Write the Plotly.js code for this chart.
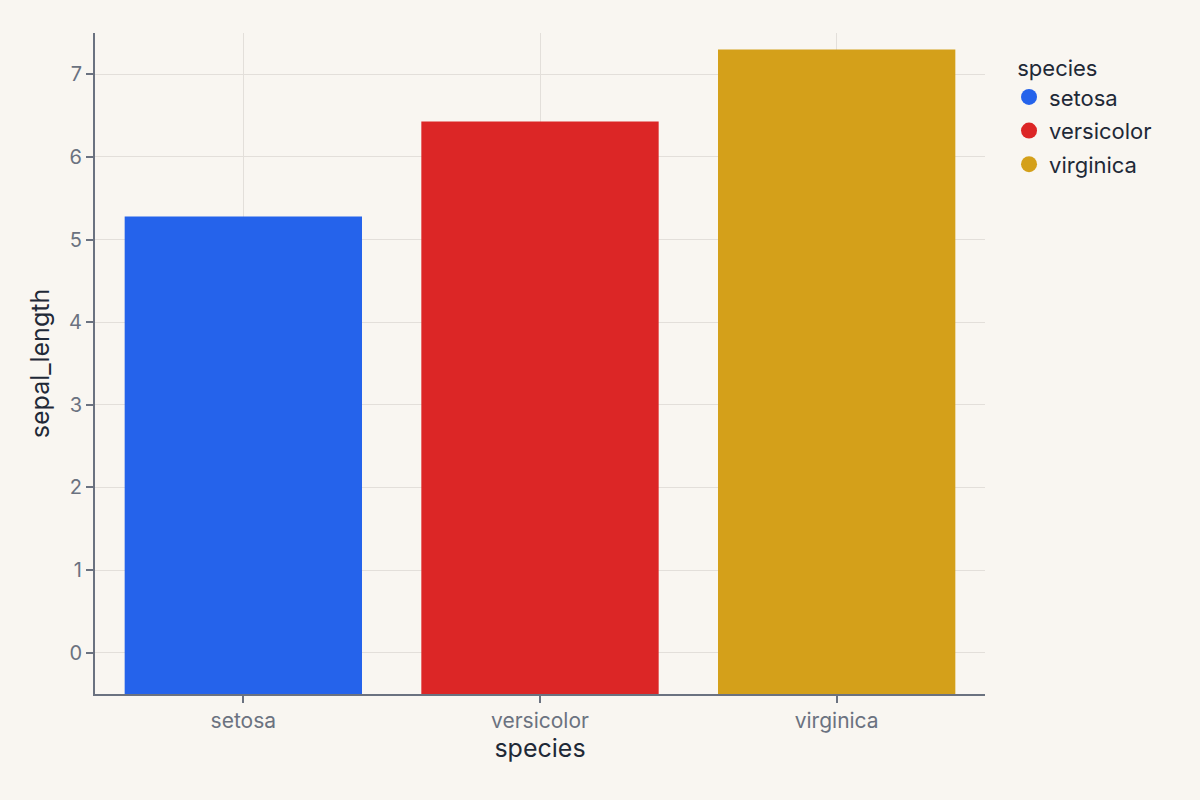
<!DOCTYPE html>
<html>
<head>
<meta charset="utf-8">
<script src="https://cdn.plot.ly/plotly-3.0.1.min.js"></script>
<style>html,body{margin:0;padding:0;background:#f9f6f1;}#chart{width:1200px;height:800px;}</style>
</head>
<body>
<div id="chart"></div>
<script>
const species = ["setosa", "versicolor", "virginica"];
const sepalLength = [5.28, 6.43, 7.30];
const colors = ["#2563eb", "#dc2626", "#d4a01a"];
const yTicks = [0, 1, 2, 3, 4, 5, 6, 7];
const yMin = -0.5;

const traces = [];
species.forEach((s, i) => {
  traces.push({
    type: "bar",
    x: [s],
    y: [sepalLength[i] - yMin],
    base: [yMin],
    name: s,
    marker: {color: colors[i], line: {width: 0}},
    showlegend: false,
    hoverinfo: "x+text",
    text: [String(sepalLength[i])],
    textposition: "none"
  });
});
species.forEach((s, i) => {
  traces.push({
    type: "scatter",
    mode: "markers",
    x: [null],
    y: [null],
    name: s,
    legendgroup: s,
    marker: {color: colors[i], size: 16, symbol: "circle"},
    showlegend: true
  });
});

const layout = {
  width: 1200,
  height: 800,
  paper_bgcolor: "#f9f6f1",
  plot_bgcolor: "#f9f6f1",
  font: {family: "Inter, sans-serif", color: "#1f2937"},
  margin: {l: 95, r: 215, t: 33, b: 106},
  bargap: 0.2,
  barmode: "overlay",
  xaxis: {
    type: "category",
    categoryarray: species,
    range: [-0.5, 2.5],
    showgrid: true,
    gridcolor: "#e3dfda",
    gridwidth: 1,
    showline: true,
    linecolor: "#6b7280",
    linewidth: 2,
    ticks: "outside",
    ticklen: 7,
    tickwidth: 2,
    tickcolor: "#6b7280",
    tickfont: {size: 21, color: "#6b7280"},
    title: {text: "species", font: {size: 25, color: "#1f2937"}, standoff: 0},
    zeroline: false
  },
  yaxis: {
    range: [yMin, 7.5],
    tickvals: yTicks,
    showgrid: true,
    gridcolor: "#e3dfda",
    gridwidth: 1,
    showline: true,
    linecolor: "#6b7280",
    linewidth: 2,
    ticks: "outside",
    ticklen: 7,
    tickwidth: 2,
    tickcolor: "#6b7280",
    tickfont: {size: 20, color: "#6b7280"},
    title: {text: "sepal_length", font: {size: 25, color: "#1f2937"}, standoff: 12},
    zeroline: false
  },
  legend: {
    x: 1.027,
    y: 0.978,
    xanchor: "left",
    yanchor: "top",
    bgcolor: "rgba(0,0,0,0)",
    font: {size: 22, color: "#1f2937"},
    title: {text: "\u00a0species", font: {size: 22, color: "#1f2937"}},
    itemsizing: "trace",
    tracegroupgap: 2
  }
};

Plotly.newPlot("chart", traces, layout, {displayModeBar: false, staticPlot: true});
</script>
</body>
</html>
